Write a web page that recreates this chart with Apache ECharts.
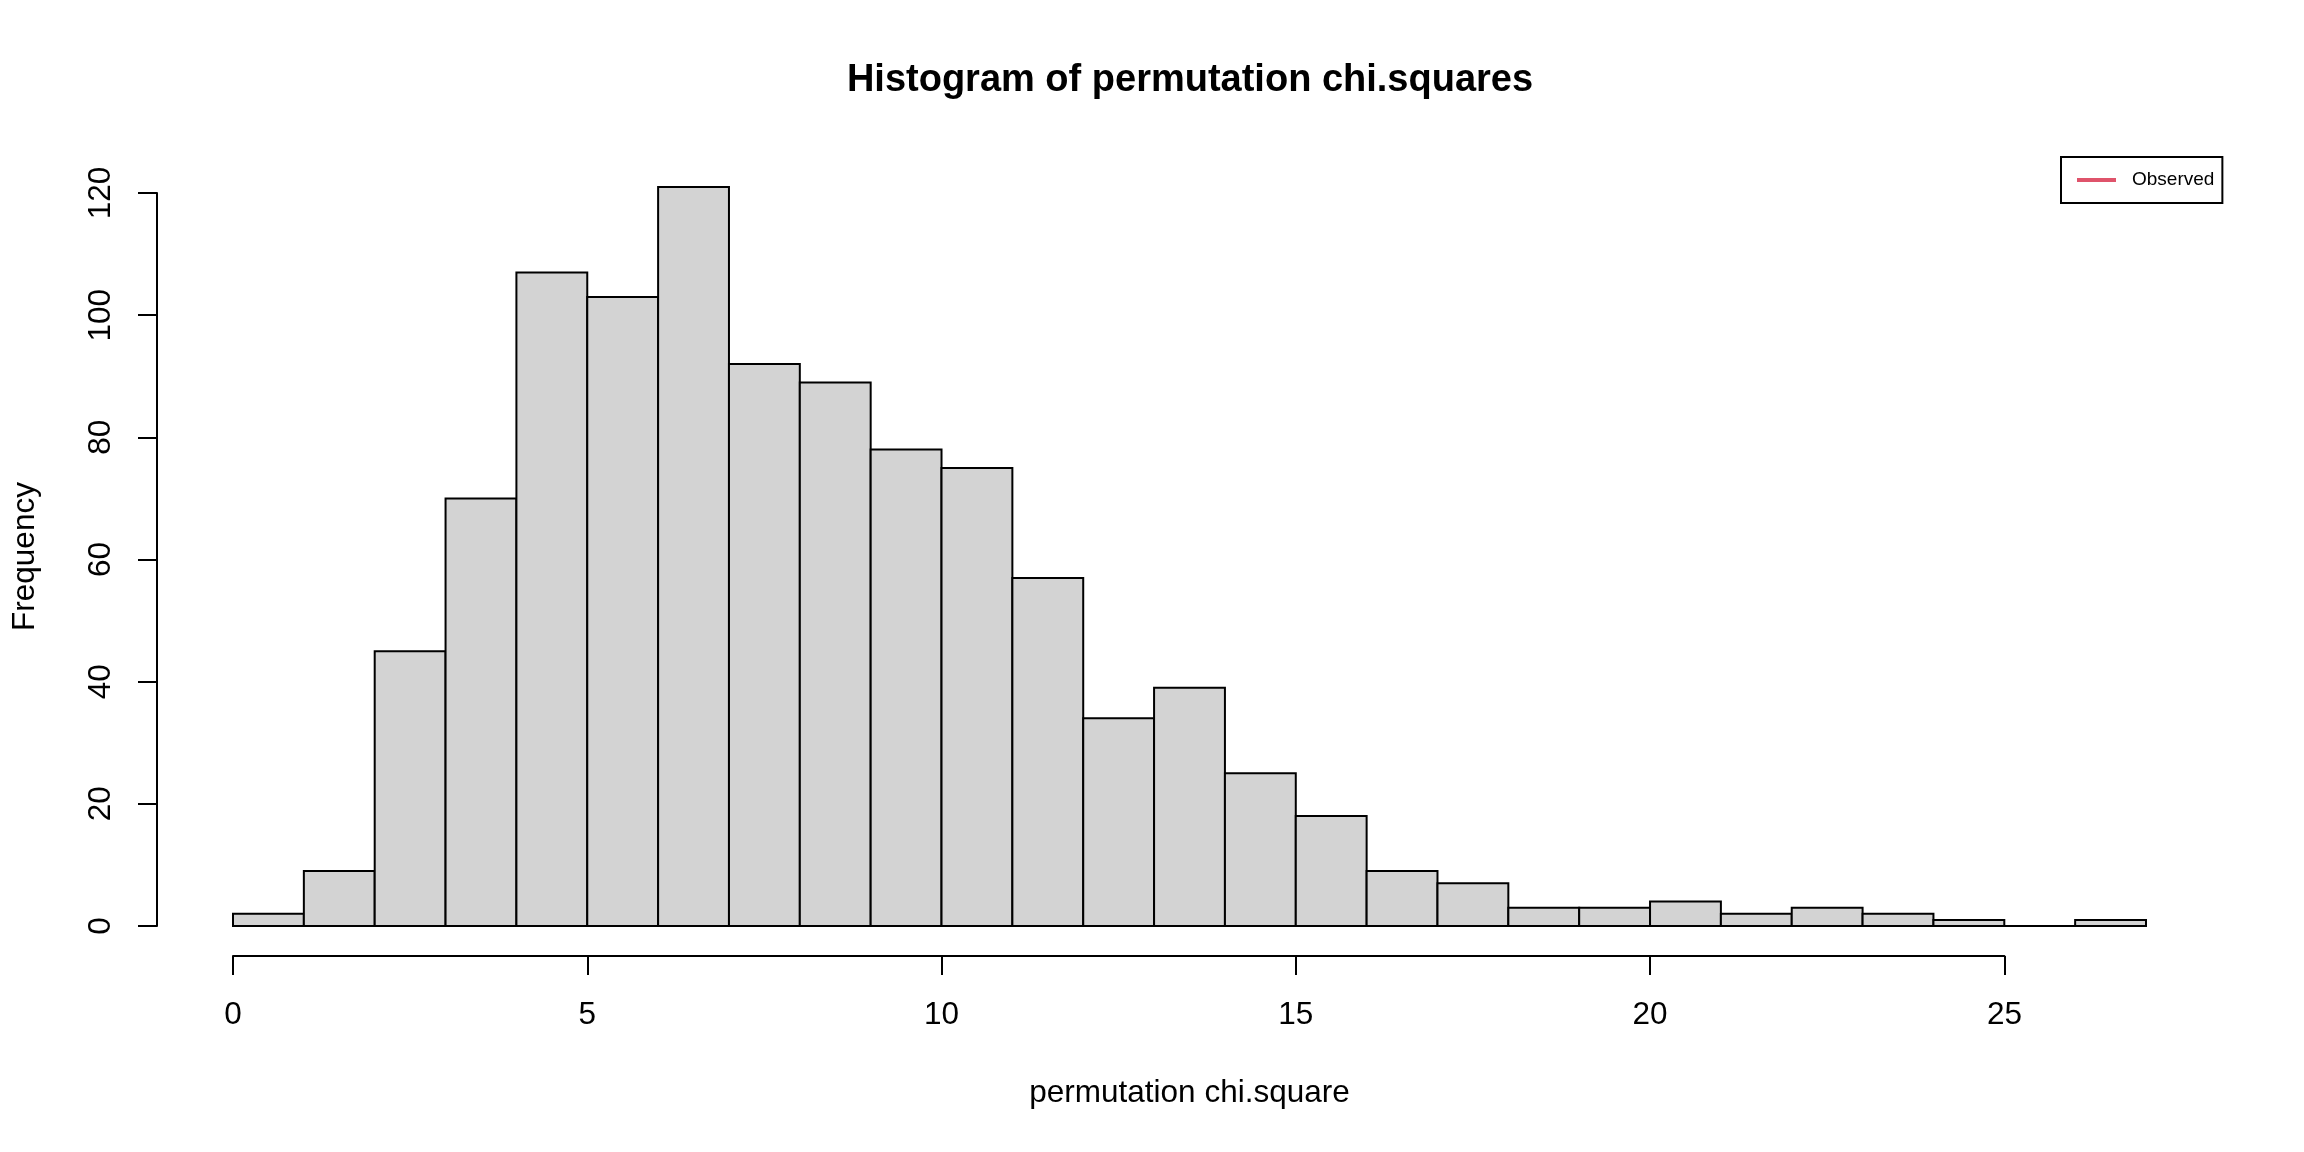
<!DOCTYPE html>
<html>
<head>
<meta charset="utf-8">
<title>Histogram of permutation chi.squares</title>
<script src="https://cdn.jsdelivr.net/npm/echarts@6/dist/echarts.min.js"></script>
<style>
    html, body { margin: 0; padding: 0; background: #fff; }
    #chart { width: 2304px; height: 1152px; }
</style>
</head>
<body>
<div id="chart"></div>
<script>
// bin edges (width 1) and counts
var binEdges = [0, 1, 2, 3, 4, 5, 6, 7, 8, 9, 10, 11, 12, 13, 14, 15, 16, 17, 18, 19, 20, 21, 22, 23, 24, 25, 26, 27];
var counts = [2, 9, 45, 70, 107, 103, 121, 92, 89, 78, 75, 57, 34, 39, 25, 18, 9, 7, 3, 3, 4, 2, 3, 2, 1, 0, 1];
var xTicks = [0, 5, 10, 15, 20, 25];
var yTicks = [0, 20, 40, 60, 80, 100, 120];

var FONT = '"Liberation Sans", Arial, sans-serif';

var bins = [];
for (var i = 0; i < counts.length; i++) {
    bins.push([binEdges[i], binEdges[i + 1], counts[i]]);
}

var chart = echarts.init(document.getElementById('chart'), null, {renderer: 'canvas'});

//histogram rectangles
function renderBin(params, api) {
    var p0 = api.coord([api.value(0), api.value(2)]);
    var p1 = api.coord([api.value(1), 0]);
    return {
        type: 'rect',
        shape: {x: p0[0], y: p0[1], width: p1[0] - p0[0], height: p1[1] - p0[1]},
        style: {fill: '#D3D3D3', stroke: '#000', lineWidth: 2}
    };
}

var blackLine = {show: true, lineStyle: {color: '#000', width: 2}};
var tick = {show: true, inside: false, length: 19, lineStyle: {color: '#000', width: 2}};

chart.setOption({
    animation: false,
    backgroundColor: '#fff',
    title: {
        text: 'Histogram of permutation chi.squares',
        left: 1190,
        top: 62,
        padding: 0,
        textAlign: 'center',
        textStyle: {fontFamily: FONT, fontSize: 38, fontWeight: 'bold', color: '#000'}
    },
    legend: {
        data: ['Observed'],
        left: 2061,
        top: 157,
        orient: 'vertical',
        padding: [12, 8, 12, 16],
        borderColor: '#000',
        borderWidth: 2,
        backgroundColor: '#fff',
        icon: 'rect',
        itemWidth: 39,
        itemHeight: 4,
        selectedMode: false,
        textStyle: {fontFamily: FONT, fontSize: 19, color: '#000', padding: [0, 0, 0, 11], lineHeight: 22}
    },
    grid: [
        // data area: x 0..27, y 0..121
        {left: 233, right: 158, top: 187, bottom: 226, containLabel: false},
        // y axis: 0..120, sits left of the bars
        {left: 157, width: 10, top: 193, bottom: 226, containLabel: false},
        // x axis: 0..25, sits under the bars
        {left: 233, width: 1771.4, bottom: 196, height: 10, containLabel: false}
    ],
    xAxis: [
        {
            gridIndex: 0, type: 'value', min: 0, max: 27,
            axisLine: {show: false}, axisTick: {show: false}, axisLabel: {show: false}, splitLine: {show: false},
            name: 'permutation chi.square', nameLocation: 'middle', nameGap: 151,
            nameTextStyle: {fontFamily: FONT, fontSize: 31.5, color: '#000'}
        },
        {gridIndex: 1, type: 'value', show: false},
        {
            gridIndex: 2, type: 'value', min: 0, max: 25, interval: 5, position: 'bottom',
            axisLine: blackLine, axisTick: tick, splitLine: {show: false},
            axisLabel: {
                fontFamily: FONT, fontSize: 31.5, color: '#000', margin: 43,
                formatter: function (v) { return xTicks.indexOf(v) >= 0 ? String(v) : ''; }
            }
        }
    ],
    yAxis: [
        {
            gridIndex: 0, type: 'value', min: 0, max: 121,
            axisLine: {show: false}, axisTick: {show: false}, axisLabel: {show: false}, splitLine: {show: false},
            name: 'Frequency', nameLocation: 'middle', nameGap: 192,
            nameTextStyle: {fontFamily: FONT, fontSize: 31.5, color: '#000'}
        },
        {
            gridIndex: 1, type: 'value', min: 0, max: 120, interval: 20, position: 'left',
            axisLine: blackLine, axisTick: tick, splitLine: {show: false},
            axisLabel: {
                fontFamily: FONT, fontSize: 31.5, color: '#000', margin: 40, rotate: 90,
                formatter: function (v) { return yTicks.indexOf(v) >= 0 ? String(v) : ''; }
            }
        },
        {gridIndex: 2, type: 'value', show: false}
    ],
    series: [
        {
            name: 'counts',
            type: 'custom',
            xAxisIndex: 0,
            yAxisIndex: 0,
            renderItem: renderBin,
            clip: false,
            encode: {x: [0, 1], y: 2},
            data: bins
        },
        {
            // observed statistic lies off the plotted range, only its legend entry shows
            name: 'Observed',
            type: 'line',
            xAxisIndex: 0,
            yAxisIndex: 0,
            color: '#DF536B',
            lineStyle: {color: '#DF536B', width: 4},
            showSymbol: false,
            data: []
        }
    ]
});
</script>
</body>
</html>
